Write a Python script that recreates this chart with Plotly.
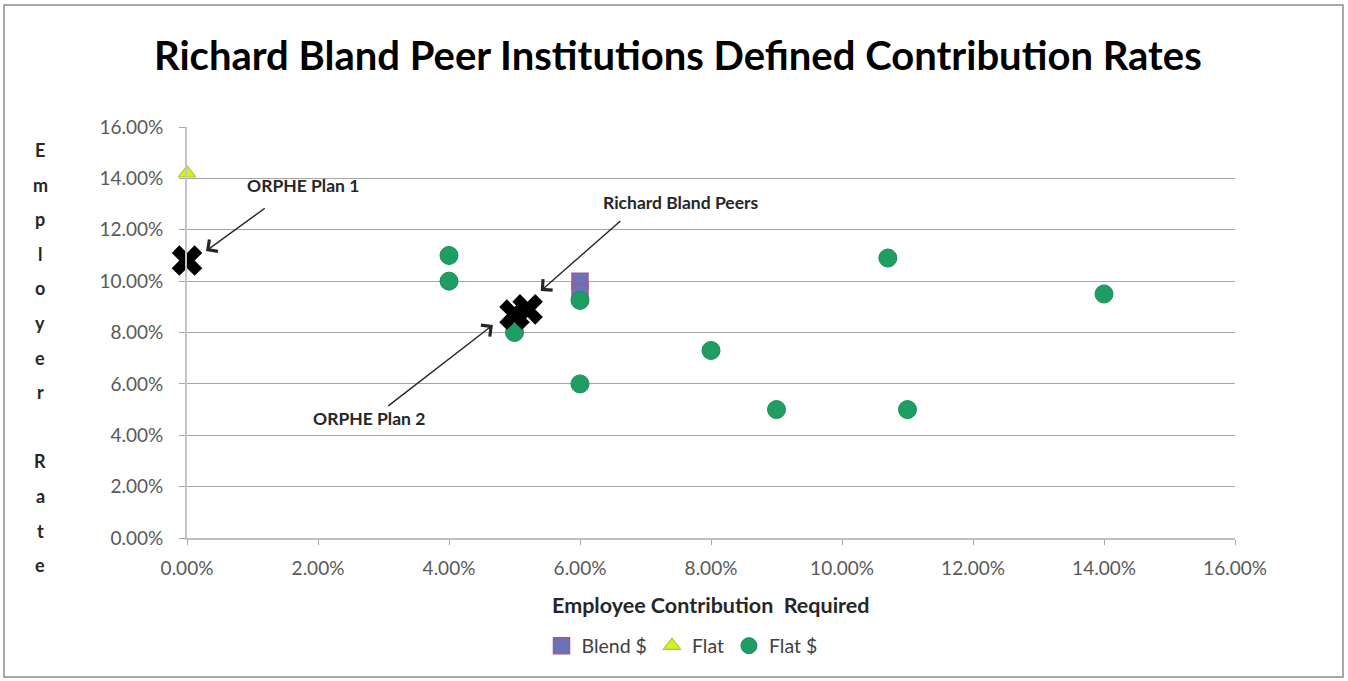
import plotly.graph_objects as go

# Employee contribution required (x) vs. employer rate (y), as fractions
blend_x = [0.06, 0.06]
blend_y = [0.100, 0.096]

flat_x = [0.0]
flat_y = [0.142]

flat_dollar_x = [0.04, 0.04, 0.05, 0.06, 0.06, 0.08, 0.09, 0.107, 0.11, 0.14]
flat_dollar_y = [0.110, 0.100, 0.080, 0.0925, 0.060, 0.073, 0.050, 0.109, 0.050, 0.095]

# Reference plans highlighted with large black crosses
ref_names = ["ORPHE Plan 1", "ORPHE Plan 2", "Richard Bland Peers"]
ref_x = [0.0, 0.050, 0.052]
ref_y = [0.108, 0.087, 0.089]

tick_vals = [i / 100 for i in range(0, 17, 2)]

TITLE = "Richard Bland Peer Institutions Defined Contribution Rates"
X_TITLE = "Employee Contribution  Required"
Y_TITLE = "Employer Rate"

W, H = 1348, 681
ML, MR, MT, MB = 187, 113, 127, 143
PW, PH = W - ML - MR, H - MT - MB

FONT = "Lato"
TICK_COLOR = "#595959"
TEXT_DARK = "#262626"


def px_to_paper(px, py):
    return (px - ML) / PW, (H - MB - py) / PH


def centered(**kw):
    kw.setdefault("xanchor", "center")
    kw.setdefault("yanchor", "middle")
    kw.setdefault("showarrow", False)
    return kw


fig = go.Figure()

fig.add_trace(go.Scatter(
    x=blend_x, y=blend_y, mode="markers", name="Blend $",
    marker=dict(symbol="square", size=16, color="#6A72B8",
                line=dict(color="#A8568E", width=1.5)),
))
fig.add_trace(go.Scatter(
    x=flat_x, y=flat_y, mode="markers", name="Flat",
    marker=dict(symbol="triangle-up", size=15, color="#D8F01C",
                line=dict(color="#A8CC3A", width=1.2)),
    cliponaxis=False,
))
fig.add_trace(go.Scatter(
    x=flat_dollar_x, y=flat_dollar_y, mode="markers", name="Flat $",
    marker=dict(symbol="circle", size=18, color="#1F9E63",
                line=dict(color="#1B8C57", width=1)),
))
fig.add_trace(go.Scatter(
    x=ref_x, y=ref_y, mode="markers", name="Reference plans",
    text=ref_names, showlegend=False,
    marker=dict(symbol="x", size=27, color="#000000", line=dict(width=0)),
    cliponaxis=False,
))

# Callout labels and arrows: label position and arrow tail/head offsets
# (in axis units) relative to each reference point
callouts = [
    # index, label (dx, dy), tail (dx, dy), head (dx, dy)
    (0, (0.0177, 0.0294), (0.0121, 0.0208), (0.0029, 0.0037)),
    (1, (-0.0222, -0.0403), (-0.0195, -0.0360), (-0.0033, -0.0041)),
    (2, (0.0234, 0.0418), (0.0144, 0.0349), (0.0020, 0.0072)),
]
annotations = []
for idx, lab, tail, head in callouts:
    px, py = ref_x[idx], ref_y[idx]
    annotations.append(dict(
        x=px + head[0], y=py + head[1], ax=px + tail[0], ay=py + tail[1],
        xref="x", yref="y", axref="x", ayref="y", text="",
        showarrow=True, arrowhead=4, arrowsize=2.0, arrowwidth=1.4,
        arrowcolor="#262626",
    ))
    annotations.append(centered(
        x=px + lab[0], y=py + lab[1], xref="x", yref="y",
        text="<b>%s</b>" % ref_names[idx],
        font=dict(family=FONT, size=17.5, color=TEXT_DARK),
    ))

# Title
tx, ty = px_to_paper(678, 55)
annotations.append(centered(
    x=tx, y=ty, xref="paper", yref="paper", text="<b>%s</b>" % TITLE,
    font=dict(family=FONT, size=40, color="#000000"),
))

# X axis title
ax_, ay_ = px_to_paper(711, 605)
annotations.append(centered(
    x=ax_, y=ay_, xref="paper", yref="paper", text="<b>%s</b>" % X_TITLE,
    font=dict(family=FONT, size=21.5, color=TEXT_DARK),
))

# Y axis title, one letter per line
letter_y0, letter_step = 150, 34.6
for i, ch in enumerate(Y_TITLE):
    if ch == " ":
        continue
    lx, ly = px_to_paper(40, letter_y0 + i * letter_step)
    annotations.append(centered(
        x=lx, y=ly, xref="paper", yref="paper", text="<b>%s</b>" % ch,
        font=dict(family=FONT, size=18, color=TEXT_DARK),
    ))

# Outer chart border
bx0, by1 = px_to_paper(4, 5)
bx1, by0 = px_to_paper(1343, 677)
shapes = [dict(type="rect", xref="paper", yref="paper",
               x0=bx0, x1=bx1, y0=by0, y1=by1,
               line=dict(color="#8C8C8C", width=1.5), layer="below")]

lgx, lgy = px_to_paper(682, 646)

fig.update_layout(
    width=W, height=H,
    margin=dict(l=ML, r=MR, t=MT, b=MB),
    paper_bgcolor="white", plot_bgcolor="white",
    font=dict(family=FONT, color=TICK_COLOR),
    showlegend=True,
    legend=dict(orientation="h", x=lgx, y=lgy, xanchor="center",
                yanchor="middle", font=dict(family=FONT, size=19.5,
                                            color="#404040"),
                itemwidth=30, tracegroupgap=0),
    annotations=annotations,
    shapes=shapes,
    xaxis=dict(range=[0, 0.16], tickvals=tick_vals, tickformat=".2%",
               showgrid=False, zeroline=False, showline=True,
               linecolor="#BFBFBF", linewidth=1.5, ticks="outside",
               ticklen=5, tickcolor="#A6A6A6", ticklabelstandoff=7,
               tickfont=dict(family=FONT, size=19, color=TICK_COLOR)),
    yaxis=dict(range=[0, 0.16], tickvals=tick_vals, tickformat=".2%",
               showgrid=True, gridcolor="#A6A6A6", gridwidth=1,
               zeroline=False, showline=True, linecolor="#C4C4CC",
               linewidth=2, ticks="outside", ticklen=6,
               tickcolor="#A6A6A6", ticklabelstandoff=12,
               tickfont=dict(family=FONT, size=19, color=TICK_COLOR)),
)

fig.write_html("out.html")
